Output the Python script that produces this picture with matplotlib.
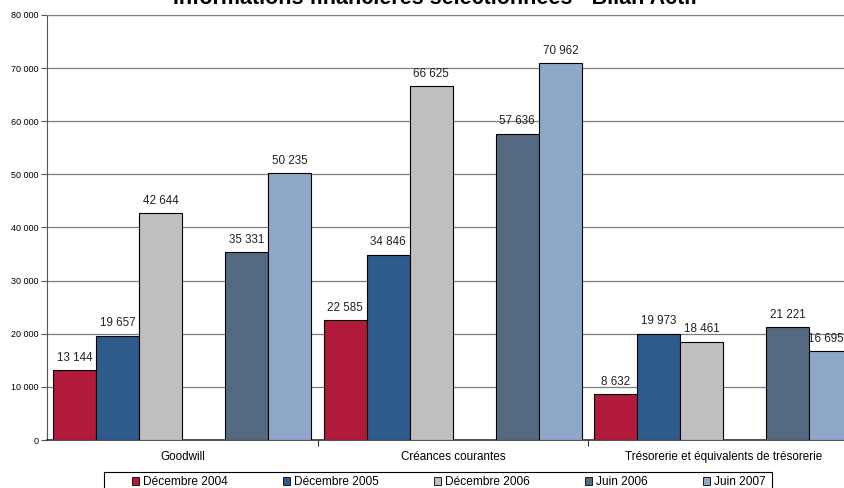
import numpy as np
import matplotlib.pyplot as plt
from matplotlib.patches import Patch, Rectangle

plt.rcParams['font.family'] = ['Liberation Sans', 'DejaVu Sans']

categories = ['Goodwill', 'Créances courantes', 'Trésorerie et équivalents de trésorerie']
series = ['Décembre 2004', 'Décembre 2005', 'Décembre 2006', 'Juin 2006', 'Juin 2007']
dec_2004 = [13144, 22585, 8632]
dec_2005 = [19657, 34846, 19973]
dec_2006 = [42644, 66625, 18461]
juin_2006 = [35331, 57636, 21221]
juin_2007 = [50235, 70962, 16695]

colors = ['#B11A3B', '#2E5A8C', '#BFBFBF', '#536A80', '#8FA8CA']
# slot 3 stays empty in each group
slots = [0, 1, 2, 4, 5]

W, H = 845, 488
fig = plt.figure(figsize=(W / 100, H / 100), dpi=100)
ax = fig.add_axes([47 / W, 1 - 440 / H, 812 / W, 425 / H])

x = np.arange(len(categories))
bw = 0.159
labels = []
for vals, slot, col in zip([dec_2004, dec_2005, dec_2006, juin_2006, juin_2007], slots, colors):
    pos = x - 0.5 + 0.022 + bw * (slot + 0.5)
    ax.bar(pos, vals, width=bw, color=col, edgecolor='black', linewidth=0.8, zorder=3)
    for p, v in zip(pos, vals):
        t = ax.annotate(f'{v:,}'.replace(',', ' '), (p, v), xytext=(0, 9), textcoords='offset points',
                        ha='center', va='center', fontsize=8.4, color='#222222', zorder=4)
        labels.append(t)

ax.set_xlim(-0.5, 2.5)
ax.set_ylim(0, 80000)
ax.set_yticks(np.arange(0, 80001, 10000))
ax.set_yticklabels([f'{v:,}'.replace(',', ' ') for v in range(0, 80001, 10000)], fontsize=6.5)
ax.yaxis.grid(True, color='#7f7f7f', linewidth=0.9, zorder=0)
ax.tick_params(axis='y', length=4, width=0.8, color='#555555', pad=2)

ax.set_xticks(x)
ax.set_xticklabels(categories, fontsize=8.4)
ax.set_xticks([0.5, 1.5], minor=True)
ax.tick_params(axis='x', which='major', length=0, pad=8)
ax.tick_params(axis='x', which='minor', length=4, width=0.8, color='#333333')

ax.spines['right'].set_visible(False)
ax.spines['top'].set_color('#7f7f7f')
ax.spines['left'].set_color('#555555')
ax.spines['bottom'].set_color('#333333')
ax.spines['bottom'].set_linewidth(1.2)

fig.text(435 / W, 1 - 4 / H, 'Informations financières sélectionnées - Bilan Actif',
         ha='center', va='baseline', fontsize=15.5, fontweight='bold')

handles = [Patch(facecolor=c, edgecolor='black', linewidth=0.6) for c in colors]
leg = fig.legend(handles, series, loc='upper left', bbox_to_anchor=(132 / W, 1 - 476 / H),
                 ncol=5, fontsize=8.6, frameon=False, handlelength=0.6,
                 handleheight=0.6, handletextpad=0.35, columnspacing=4.6, borderpad=0,
                 borderaxespad=0)

fig.canvas.draw()

# keep value labels inside the figure
for t in labels:
    bb = t.get_window_extent()
    if bb.x1 > W - 1:
        t.set_position((-(bb.x1 - (W - 1)) * 72 / 100, 9))

# box around the legend entries
bb = leg.get_window_extent()
x0, x1 = bb.x0 - 28, bb.x1 + 6
y_top = H - 472
fig.add_artist(Rectangle((x0 / W, -0.05), (x1 - x0) / W, y_top / H + 0.05,
                         transform=fig.transFigure, fill=False, edgecolor='black',
                         linewidth=0.8))

fig.savefig('out.png', dpi=100)
